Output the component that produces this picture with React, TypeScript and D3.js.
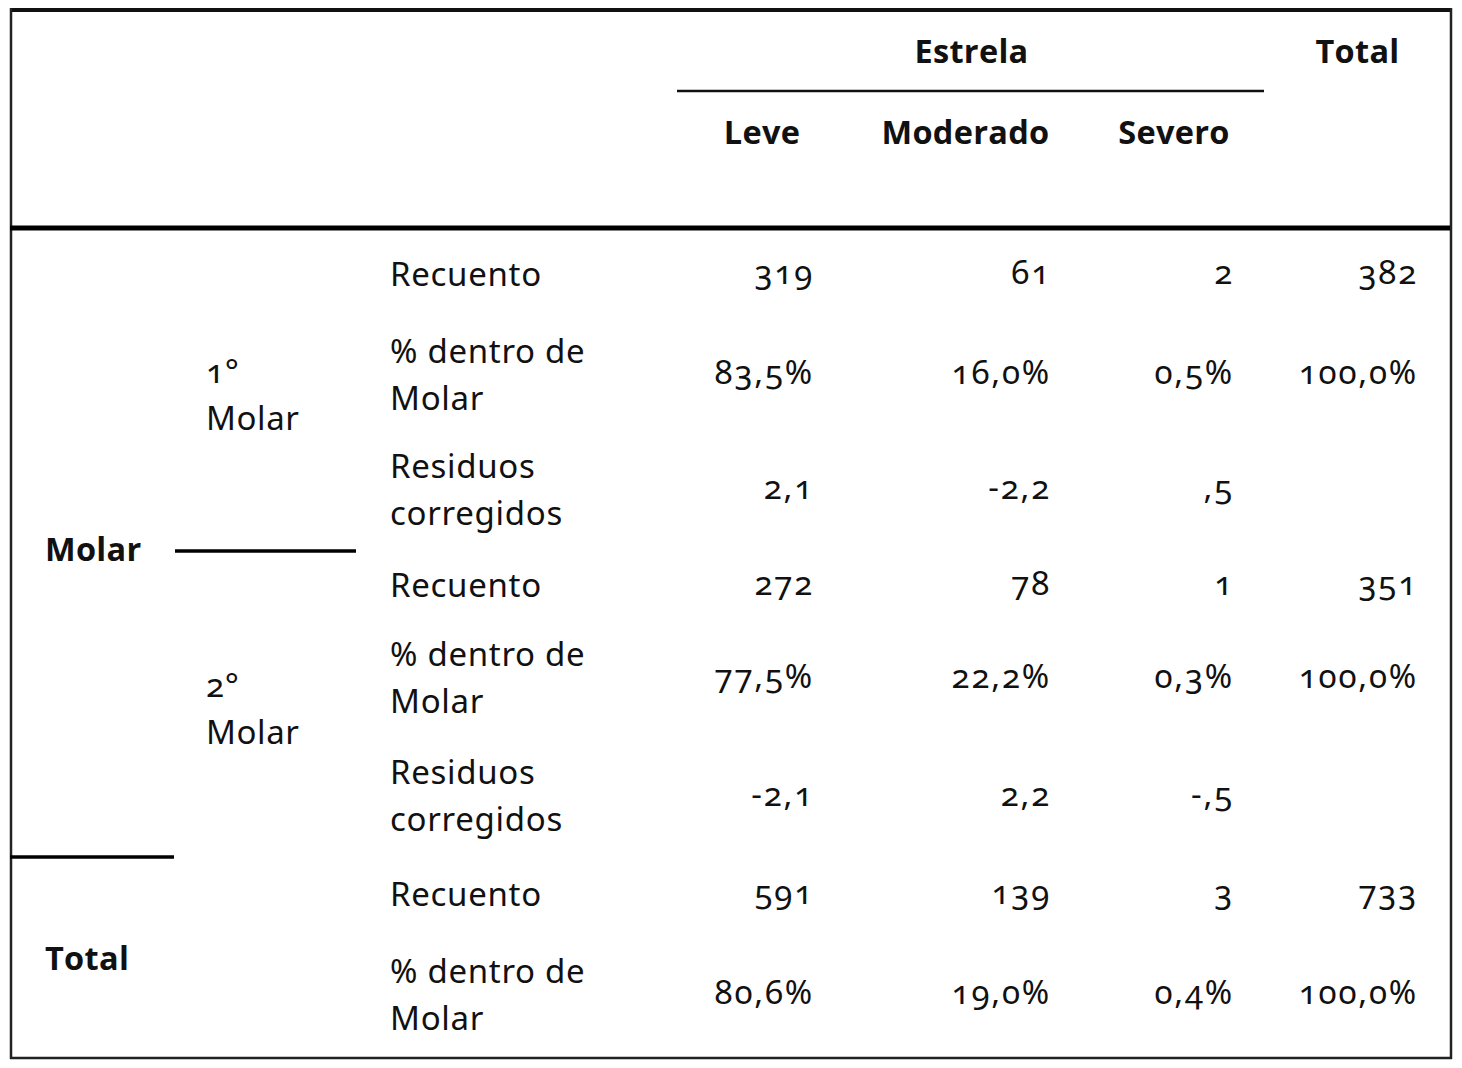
import React from "react";
import * as d3 from "d3";

// ---- data ----
const groupHeader = "Estrela";
const categories = ["Leve", "Moderado", "Severo"];
const totalLabel = "Total";
const outerLabels = ["Molar", "Total"];
const innerLabels = [["1°", "Molar"], ["2°", "Molar"]];
const statLabels = [
  ["Recuento"],
  ["% dentro de", "Molar"],
  ["Residuos", "corregidos"],
  ["Recuento"],
  ["% dentro de", "Molar"],
  ["Residuos", "corregidos"],
  ["Recuento"],
  ["% dentro de", "Molar"],
];
const leveValues = ["319", "83,5%", "2,1", "272", "77,5%", "-2,1", "591", "80,6%"];
const moderadoValues = ["61", "16,0%", "-2,2", "78", "22,2%", "2,2", "139", "19,0%"];
const severoValues = ["2", "0,5%", ",5", "1", "0,3%", "-,5", "3", "0,4%"];
const totalValues = ["382", "100,0%", "", "351", "100,0%", "", "733", "100,0%"];

// ---- layout ----
const W = 1462;
const H = 1068;
const rowHeights = [92, 109, 121, 70, 116, 120, 76, 125];
const headerBottom = 229;
const colWidths = [170, 237, 180, 187];
const colStart = 677;

const rowEdges = [0, ...d3.cumsum(rowHeights)];
const yRow = d3.scaleLinear().domain([0, rowEdges[rowEdges.length - 1]]).range([headerBottom, 1058]);
const rowCenter = (i: number) => (yRow(rowEdges[i]) + yRow(rowEdges[i + 1])) / 2;

const colEdges = [0, ...d3.cumsum(colWidths)];
const xCol = d3.scaleLinear().domain([0, colEdges[colEdges.length - 1]]).range([colStart, colStart + colEdges[colEdges.length - 1]]);

const bodyFont = "'Noto Sans', 'Open Sans', sans-serif";
const headFont = "'Open Sans', 'Noto Sans', sans-serif";

export default function App() {
  const columns = [leveValues, moderadoValues, severoValues, totalValues];
  const headers = [...categories, totalLabel];
  const lineGap = 47;

  const bodyStyle: React.CSSProperties = { fontVariantNumeric: "oldstyle-nums" };

  return (
    <svg width={W} height={H} style={{ position: "absolute", left: 0, top: 0, background: "#fff" }}>
      <rect x={0} y={0} width={W} height={H} fill="#fff" />
      {/* borders */}
      <line x1={10} x2={1452} y1={10} y2={10} stroke="#111" strokeWidth={4} />
      <line x1={11} x2={11} y1={8} y2={1059} stroke="#222" strokeWidth={2.5} />
      <line x1={1451} x2={1451} y1={8} y2={1059} stroke="#222" strokeWidth={2.5} />
      <line x1={10} x2={1452} y1={1058} y2={1058} stroke="#222" strokeWidth={2.5} />
      <line x1={10} x2={1450} y1={228} y2={228} stroke="#000" strokeWidth={5} />
      <line x1={xCol(colEdges[0])} x2={xCol(colEdges[3])} y1={91} y2={91} stroke="#111" strokeWidth={2.5} />
      <line x1={175} x2={356} y1={551} y2={551} stroke="#000" strokeWidth={3.5} />
      <line x1={10} x2={174} y1={857} y2={857} stroke="#000" strokeWidth={3.5} />

      {/* header */}
      <g fontFamily={headFont} fontWeight={700} fontSize={32.5} letterSpacing={0.3} fill="#111" textAnchor="middle">
        <text x={(xCol(colEdges[0]) + xCol(colEdges[3])) / 2 + 1} y={50} dominantBaseline="central">{groupHeader}</text>
        {headers.map((h, i) => (
          <text
            key={h}
            x={(xCol(colEdges[i]) + xCol(colEdges[i + 1])) / 2}
            y={i === 3 ? 50 : 131}
            dominantBaseline="central"
          >
            {h}
          </text>
        ))}
      </g>

      {/* outer labels */}
      <g fontFamily={headFont} fontWeight={700} fontSize={32.5} letterSpacing={0.3} fill="#111">
        <text x={45} y={(yRow(rowEdges[0]) + yRow(rowEdges[6])) / 2 + 5} dominantBaseline="central">{outerLabels[0]}</text>
        <text x={45} y={(yRow(rowEdges[6]) + yRow(rowEdges[8])) / 2} dominantBaseline="central">{outerLabels[1]}</text>
      </g>

      {/* inner labels */}
      <g fontFamily={bodyFont} fontSize={33} letterSpacing={0.6} fill="#111" style={bodyStyle}>
        {innerLabels.map((lines, g) => {
          const c = (yRow(rowEdges[g * 3]) + yRow(rowEdges[g * 3 + 3])) / 2;
          return lines.map((t, k) => (
            <text key={g + "-" + k} x={206} y={c - 20 + k * lineGap} dominantBaseline="central">{t}</text>
          ));
        })}
      </g>

      {/* stat labels */}
      <g fontFamily={bodyFont} fontSize={33} letterSpacing={0.7} fill="#111" style={bodyStyle}>
        {statLabels.map((lines, i) => {
          const c = rowCenter(i);
          const off = -((lines.length - 1) * lineGap) / 2;
          return lines.map((t, k) => (
            <text key={i + "-" + k} x={390} y={c + off + k * lineGap - 2} dominantBaseline="central">{t}</text>
          ));
        })}
      </g>

      {/* values */}
      <g fontFamily={bodyFont} fontSize={33} letterSpacing={1.8} fill="#111" textAnchor="end" style={bodyStyle}>
        {columns.map((vals, j) =>
          vals.map((v, i) => (
            <text key={j + "-" + i} x={xCol(colEdges[j + 1]) - (j === 2 ? 30 : 33)} y={rowCenter(i) - 4} dominantBaseline="central">{v}</text>
          ))
        )}
      </g>
    </svg>
  );
}
